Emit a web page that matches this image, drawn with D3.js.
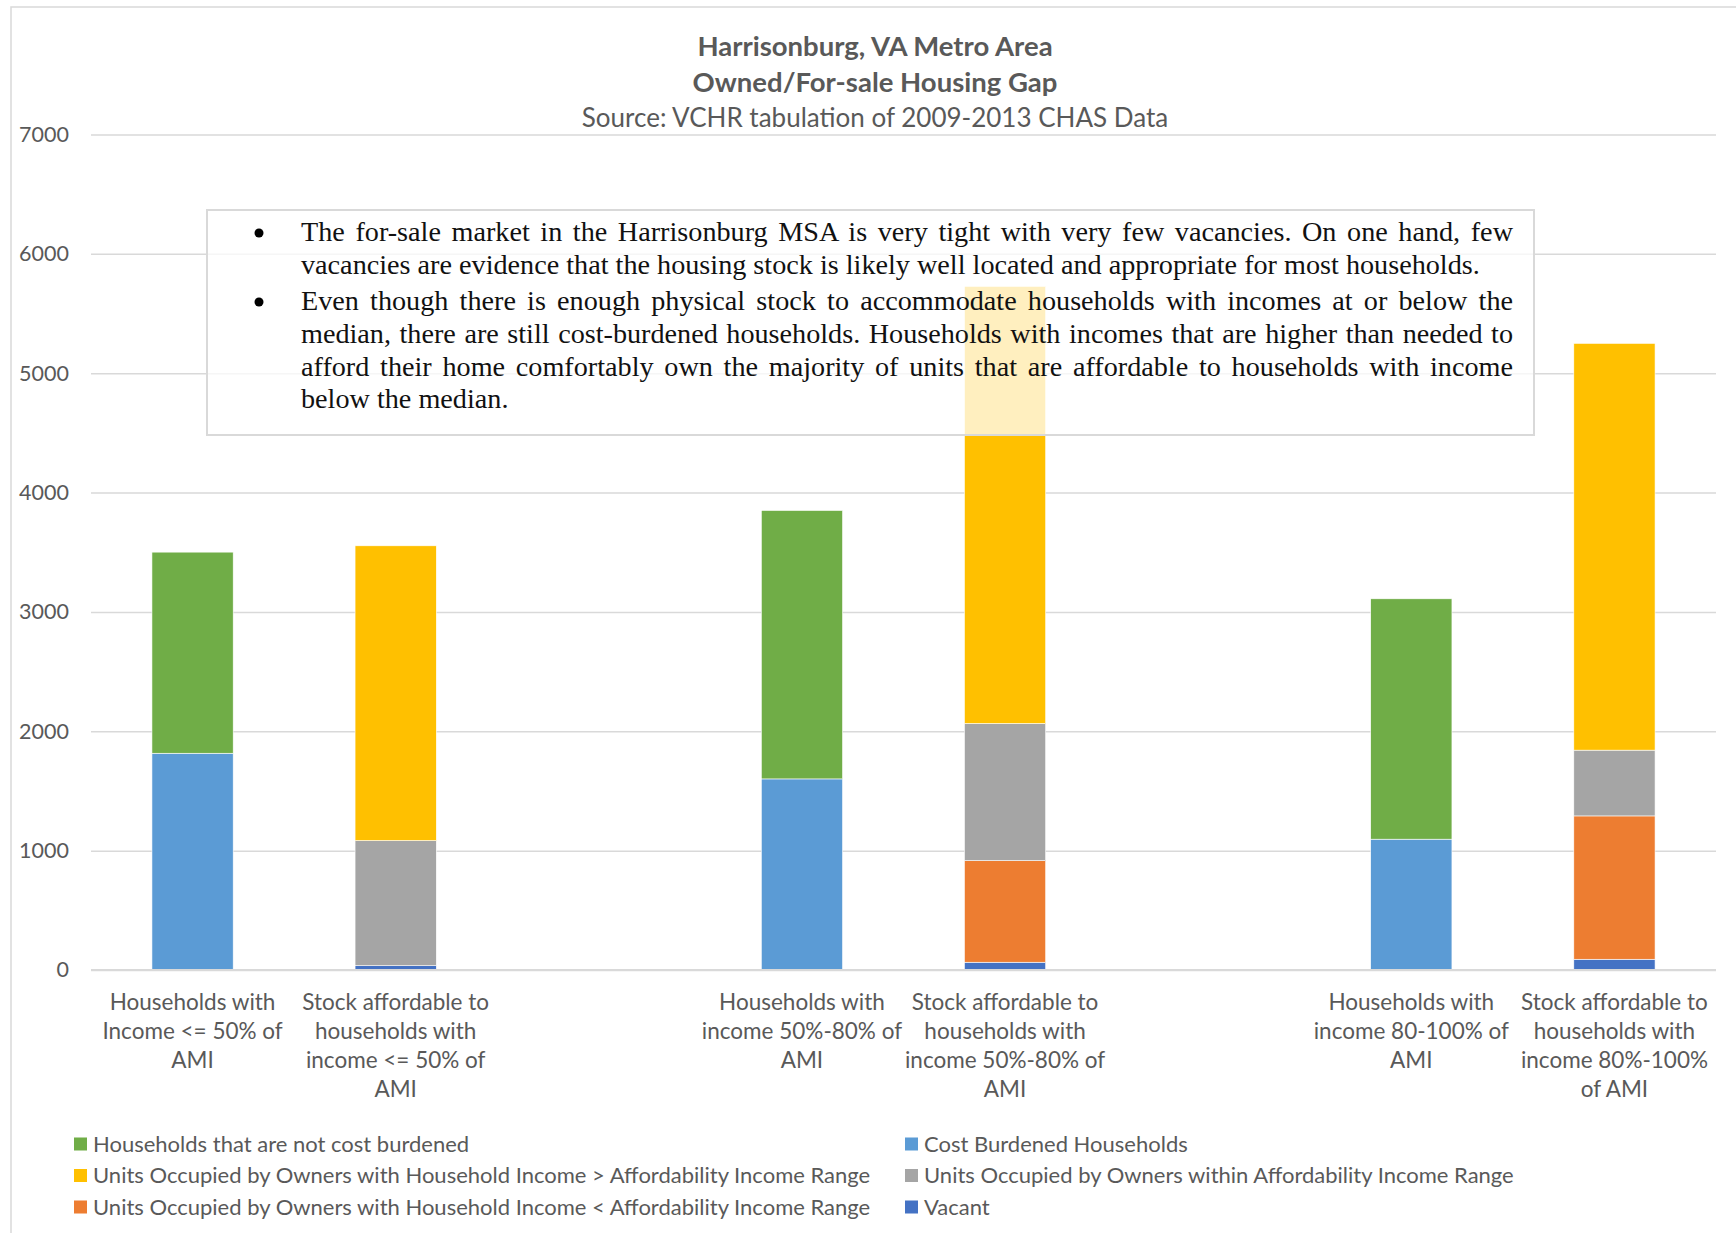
<!DOCTYPE html>
<html>
<head>
<meta charset="utf-8">
<script src="https://cdn.jsdelivr.net/npm/d3@7"></script>
<style>
  body { margin: 0; background: #fff; }
</style>
</head>
<body>
<div id="chart"></div>
<script>

var width = 1736;
var height = 1233;

// categories (blank ones are the gaps between groups)
var categories = [
  ['Households with', 'Income <= 50% of', 'AMI'],
  ['Stock affordable to', 'households with', 'income <= 50% of', 'AMI'],
  [],
  ['Households with', 'income 50%-80% of', 'AMI'],
  ['Stock affordable to', 'households with', 'income 50%-80% of', 'AMI'],
  [],
  ['Households with', 'income 80-100% of', 'AMI'],
  ['Stock affordable to', 'households with', 'income 80%-100%', 'of AMI']
];

var vacant      = [0, 36, 0, 0, 65, 0, 0, 90];
var ownersBelow = [0, 0, 0, 0, 851, 0, 0, 1201];
var ownersWithin= [0, 1048, 0, 0, 1149, 0, 0, 551];
var ownersAbove = [0, 2470, 0, 0, 3663, 0, 0, 3408];
var burdened    = [1816, 0, 0, 1601, 0, 0, 1096, 0];
var notBurdened = [1685, 0, 0, 2249, 0, 0, 2014, 0];

var yTicks = [0, 1000, 2000, 3000, 4000, 5000, 6000, 7000];

var seriesNames = {
  notBurdened: 'Households that are not cost burdened',
  burdened: 'Cost Burdened Households',
  ownersAbove: 'Units Occupied by Owners with Household Income > Affordability Income Range',
  ownersWithin: 'Units Occupied by Owners within Affordability Income Range',
  ownersBelow: 'Units Occupied by Owners with Household Income < Affordability Income Range',
  vacant: 'Vacant'
};
var legendOrder = ['notBurdened', 'burdened', 'ownersAbove', 'ownersWithin', 'ownersBelow', 'vacant'];
var stackKeys = ['vacant', 'ownersBelow', 'ownersWithin', 'ownersAbove', 'burdened', 'notBurdened'];

var titleLines = ['Harrisonburg, VA Metro Area', 'Owned/For-sale Housing Gap'];
var subtitle = 'Source: VCHR tabulation of 2009-2013 CHAS Data';

var notes = [
  ['The for-sale market in the Harrisonburg MSA is very tight with very few vacancies. On one hand, few',
   'vacancies are evidence that the housing stock is likely well located and appropriate for most households.'],
  ['Even though there is enough physical stock to accommodate households with incomes at or below the',
   'median, there are still cost-burdened households. Households with incomes that are higher than needed to',
   'afford their home comfortably own the majority of units that are affordable to households with income',
   'below the median.']
];

var color = d3.scaleOrdinal()
  .domain(legendOrder)
  .range(['#70AD47', '#5B9BD5', '#FFC000', '#A5A5A5', '#ED7D31', '#4472C4']);

var plotLeft = 91, plotRight = 1716, plotTop = 134.5, plotBottom = 970;
var textColor = '#595959';
var sans = 'Lato, "Open Sans", sans-serif';

var svg = d3.select('#chart')
  .append('svg')
  .attr('width', width)
  .attr('height', height)
  .style('background-color', '#fff');

// outer chart border
svg.append('rect')
  .attr('x', 11).attr('y', 7)
  .attr('width', width + 20).attr('height', height + 20)
  .attr('fill', 'none')
  .attr('stroke', '#D9D9D9')
  .attr('stroke-width', 1.5);

var rows = categories.map(function(c, i) {
  return {
    i: i,
    vacant: vacant[i], ownersBelow: ownersBelow[i], ownersWithin: ownersWithin[i],
    ownersAbove: ownersAbove[i], burdened: burdened[i], notBurdened: notBurdened[i]
  };
});

var x = d3.scaleBand()
  .domain(d3.range(categories.length))
  .range([plotLeft, plotRight])
  .paddingInner(0.6)
  .paddingOuter(0.3);

var y = d3.scaleLinear()
  .domain([0, 7000])
  .range([plotBottom, plotTop]);

// gridlines
svg.append('g')
  .attr('class', 'grid')
  .attr('transform', 'translate(' + plotLeft + ',0)')
  .call(d3.axisLeft(y).tickValues(yTicks).tickSize(-(plotRight - plotLeft)).tickFormat(''))
  .call(function(g) { g.select('.domain').remove(); })
  .selectAll('line')
  .attr('stroke', '#D9D9D9')
  .attr('stroke-width', 1.5);

// y tick labels
svg.append('g')
  .attr('transform', 'translate(' + plotLeft + ',0)')
  .call(d3.axisLeft(y).tickValues(yTicks).tickFormat(d3.format('d')).tickSize(0).tickPadding(22))
  .call(function(g) {
    g.select('.domain').remove();
    g.selectAll('text')
      .style('fill', textColor)
      .style('font-family', sans)
      .style('font-size', '21.5px');
  });

// stacked bars
var stacked = d3.stack().keys(stackKeys)(rows);

svg.append('g')
  .selectAll('g')
  .data(stacked)
  .enter()
  .append('g')
  .attr('fill', function(s) { return color(s.key); })
  .selectAll('rect')
  .data(function(s) { return s.filter(function(d) { return d[1] - d[0] > 0; }); })
  .enter()
  .append('rect')
  .attr('x', function(d) { return x(d.data.i); })
  .attr('width', x.bandwidth())
  .attr('y', function(d) { return y(d[1]); })
  .attr('height', function(d) { return y(d[0]) - y(d[1]); })
  .attr('stroke', '#fff')
  .attr('stroke-width', 0.6);

// baseline
svg.append('line')
  .attr('x1', plotLeft).attr('x2', plotRight)
  .attr('y1', y(0)).attr('y2', y(0))
  .attr('stroke', '#D9D9D9')
  .attr('stroke-width', 2);

// category labels
var catLabels = svg.append('g')
  .selectAll('text')
  .data(categories)
  .enter()
  .append('text')
  .attr('text-anchor', 'middle')
  .style('fill', textColor)
  .style('font-family', sans)
  .style('font-size', '22.5px');

catLabels.selectAll('tspan')
  .data(function(d, i) { return d.map(function(t) { return { t: t, i: i }; }); })
  .enter()
  .append('tspan')
  .attr('x', function(d) { return x(d.i) + x.bandwidth() / 2; })
  .attr('y', function(d, j) { return 1010 + j * 29; })
  .text(function(d) { return d.t; });

// title
svg.append('g')
  .selectAll('text')
  .data(titleLines)
  .enter()
  .append('text')
  .attr('x', 875)
  .attr('y', function(d, i) { return 55.5 + i * 36; })
  .attr('text-anchor', 'middle')
  .text(function(d) { return d; })
  .style('fill', textColor)
  .style('font-family', sans)
  .style('font-size', '27.5px')
  .style('font-weight', '700');

svg.append('text')
  .attr('x', 875)
  .attr('y', 127)
  .attr('text-anchor', 'middle')
  .text(subtitle)
  .style('fill', textColor)
  .style('font-family', sans)
  .style('font-size', '26px');

// note box
svg.append('rect')
  .attr('x', 207).attr('y', 210)
  .attr('width', 1327).attr('height', 225)
  .attr('fill', '#fff')
  .attr('fill-opacity', 0.75)
  .attr('stroke', '#D9D9D9')
  .attr('stroke-width', 2);

var textLeft = 301, textRight = 1513;
var lineY = [[241, 274], [310, 343, 376, 408]];

notes.forEach(function(par, p) {
  svg.append('circle')
    .attr('cx', 259)
    .attr('cy', lineY[p][0] - 8)
    .attr('r', 4.5)
    .attr('fill', '#000');

  par.forEach(function(line, k) {
    var t = svg.append('text')
      .attr('x', textLeft)
      .attr('y', lineY[p][k])
      .text(line)
      .style('fill', '#111')
      .style('font-family', '"Liberation Serif", "DejaVu Serif", serif')
      .style('font-size', '28.2px');
    // justify all but the last line of a paragraph by widening word gaps
    if (k < par.length - 1) {
      var natural = t.node().getComputedTextLength();
      var gaps = line.split(' ').length - 1;
      t.style('word-spacing', ((textRight - textLeft - natural) / gaps) + 'px');
    }
  });
});

// legend
var legend = svg.append('g')
  .selectAll('g')
  .data(legendOrder)
  .enter()
  .append('g')
  .attr('transform', function(d, i) {
    var col = i % 2, row = Math.floor(i / 2);
    return 'translate(' + (col === 0 ? 74 : 905) + ',' + (1144 + row * 31.5) + ')';
  });

legend.append('rect')
  .attr('x', 0).attr('y', -6.5)
  .attr('width', 13).attr('height', 13)
  .attr('fill', function(d) { return color(d); });

legend.append('text')
  .attr('x', 19)
  .attr('y', 7.5)
  .text(function(d) { return seriesNames[d]; })
  .style('fill', textColor)
  .style('font-family', sans)
  .style('font-size', '22px');

</script>
</body>
</html>
